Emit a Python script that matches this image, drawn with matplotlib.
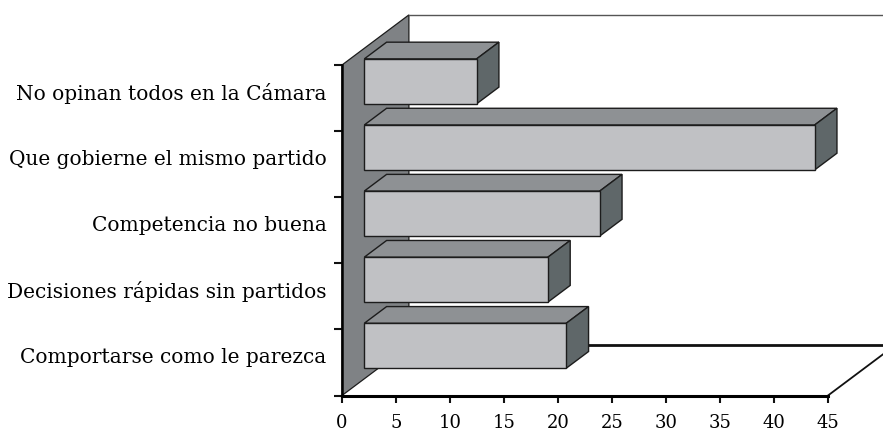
import matplotlib
matplotlib.use('Agg')
import matplotlib.pyplot as plt
from matplotlib.patches import Polygon
from matplotlib.transforms import ScaledTranslation

categories = ["Comportarse como le parezca", "Decisiones rápidas sin partidos",
              "Competencia no buena", "Que gobierne el mismo partido",
              "No opinan todos en la Cámara"]
values = [18.7, 17.0, 21.8, 41.7, 10.4]
xticks = [0, 5, 10, 15, 20, 25, 30, 35, 40, 45]

W, H = 883, 432
fig = plt.figure(figsize=(W / 100, H / 100), dpi=100)
L, R, T, B = 342, 828, 65, 395.5
ax = fig.add_axes([L / W, 1 - B / H, (R - L) / W, (B - T) / H])
xmax = 45
ax.set_xlim(0, xmax)
ax.set_ylim(-0.5, 4.5)
ax.patch.set_visible(False)

sx = xmax / (R - L)
sy = 5 / (B - T)
dx = 22.3 * sx
dy = 16.7 * sy

FRONT = '#C0C1C4'
TOP = '#8E9194'
SIDE = '#5F6769'
WALL = '#7F8285'
EDGE = '#1c1c1c'

# side wall
ax.add_patch(Polygon([(0, -0.5), (3 * dx, -0.5 + 3 * dy), (3 * dx, 4.5 + 3 * dy), (0, 4.5)],
                     closed=True, facecolor=WALL, edgecolor=EDGE, lw=0.9, clip_on=False, zorder=1))
# floor and back wall lines
ax.plot([3 * dx, xmax + 3 * dx + 10], [-0.5 + 3 * dy] * 2, color='#111111', lw=2.0, clip_on=False, zorder=1)
ax.plot([xmax, xmax + 3 * dx], [-0.5, -0.5 + 3 * dy], color='#111111', lw=1.3, clip_on=False, zorder=1)
ax.plot([3 * dx, xmax + 3 * dx + 10], [4.5 + 3 * dy] * 2, color='#555555', lw=1.0, clip_on=False, zorder=1)

hh = 0.34
for i in range(len(values) - 1, -1, -1):
    v = values[i]
    y0, y1 = i - hh, i + hh
    z = 10 + (len(values) - i)
    front = [(dx, y0 + dy), (v + dx, y0 + dy), (v + dx, y1 + dy), (dx, y1 + dy)]
    top = [(dx, y1 + dy), (v + dx, y1 + dy), (v + 2 * dx, y1 + 2 * dy), (2 * dx, y1 + 2 * dy)]
    side = [(v + dx, y0 + dy), (v + 2 * dx, y0 + 2 * dy), (v + 2 * dx, y1 + 2 * dy), (v + dx, y1 + dy)]
    for pts, c in ((top, TOP), (side, SIDE), (front, FRONT)):
        ax.add_patch(Polygon(pts, closed=True, facecolor=c, edgecolor=EDGE, lw=1.0,
                             joinstyle='miter', clip_on=False, zorder=z))

for s in ('top', 'right'):
    ax.spines[s].set_visible(False)
ax.spines['left'].set_linewidth(1.8)
ax.spines['bottom'].set_linewidth(2.2)
ax.spines['left'].set_zorder(5)
ax.spines['bottom'].set_zorder(5)

font = 'DejaVu Serif'
ax.set_xticks(xticks)
ax.set_xticklabels([str(t) for t in xticks], fontfamily=font, fontsize=13)
ax.tick_params(axis='x', direction='out', length=5, width=1.5, pad=8, color='#111111')

ax.set_yticks(range(len(categories)))
ax.set_yticklabels(categories, fontfamily=font, fontsize=14.5)
ax.set_yticks([k - 0.5 for k in range(len(categories) + 1)], minor=True)
ax.tick_params(axis='y', which='major', length=0, pad=11)
ax.tick_params(axis='y', which='minor', direction='out', length=6, width=1.5, color='#111111')
off = ScaledTranslation(0, 7 / 100, fig.dpi_scale_trans)
for lab in ax.get_yticklabels():
    lab.set_transform(lab.get_transform() + off)

fig.savefig('out.png', dpi=100)
